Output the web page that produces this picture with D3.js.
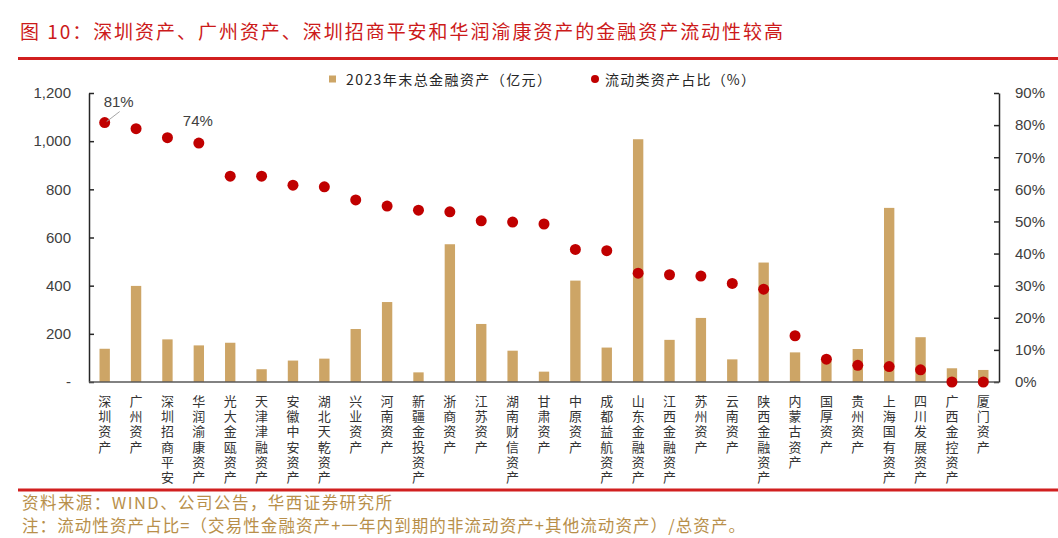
<!DOCTYPE html>
<html><head><meta charset="utf-8">
<script src="https://cdn.jsdelivr.net/npm/d3@7"></script>
<style>
body{margin:0;background:#fff;}
svg{display:block;}
text{font-family:"Liberation Sans","Noto Sans CJK SC",sans-serif;}
.cjk{font-family:"Noto Sans CJK SC","Liberation Sans",sans-serif;}
.vert{writing-mode:vertical-rl;text-orientation:upright;}
</style></head>
<body>
<svg id="chart" width="1058" height="538"></svg>
<script>
const categories = ["深圳资产","广州资产","深圳招商平安","华润渝康资产","光大金瓯资产","天津津融资产","安徽中安资产","湖北天乾资产","兴业资产","河南资产","新疆金投资产","浙商资产","江苏资产","湖南财信资产","甘肃资产","中原资产","成都益航资产","山东金融资产","江西金融资产","苏州资产","云南资产","陕西金融资产","内蒙古资产","国厚资产","贵州资产","上海国有资产","四川发展资产","广西金控资产","厦门资产"];
const totalAssets = [138,399,177,152,163,53,89,97,220,332,40,572,241,130,43,421,143,1008,175,266,94,496,123,88,137,723,186,57,50];
const liquidRatio = [80.8,78.9,76.1,74.4,64.1,64.1,61.3,60.8,56.7,54.8,53.5,53.0,50.2,49.8,49.2,41.3,40.9,33.9,33.4,33.0,30.7,28.9,14.4,7.1,5.2,4.8,3.8,0,0];
const leftTicks = [0,200,400,600,800,1000,1200];
const rightTicks = [0,10,20,30,40,50,60,70,80,90];
const seriesNames = ["2023年末总金融资产（亿元）","流动类资产占比（%）"];
const titleText = "图 10：深圳资产、广州资产、深圳招商平安和华润渝康资产的金融资产流动性较高";
const sourceText = "资料来源：WIND、公司公告，华西证券研究所";
const noteText = "注：流动性资产占比=（交易性金融资产+一年内到期的非流动资产+其他流动资产）/总资产。";
const annotated = [0,3];

const svg = d3.select("#chart");
const barColor = "#CDA566", dotColor = "#C00000", red = "#D11F1F", gold = "#B88F4A";
const L = 89, R = 999, T = 93, B = 382;

const x = d3.scaleBand().domain(categories).range([L,R]).paddingInner(0.67).paddingOuter(0.335);
const yL = d3.scaleLinear().domain([0,1200]).range([B,T]);
const yR = d3.scaleLinear().domain([0,90]).range([B,T]);

// title
svg.append("text").attr("class","cjk").attr("x",20).attr("y",39)
  .attr("fill","#CC1A1A").attr("font-size",19).attr("textLength",763).attr("lengthAdjust","spacing")
  .text(titleText);
svg.append("line").attr("x1",18).attr("x2",1058).attr("y1",58.5).attr("y2",58.5)
  .attr("stroke",red).attr("stroke-width",3);

// legend
svg.append("rect").attr("x",329).attr("y",75.5).attr("width",7).attr("height",7).attr("fill",barColor);
svg.append("text").attr("class","cjk").attr("x",346).attr("y",84.5).attr("font-size",14).attr("fill","#262626")
  .attr("textLength",205).attr("lengthAdjust","spacing").text(seriesNames[0]);
svg.append("circle").attr("cx",595).attr("cy",79).attr("r",4).attr("fill",dotColor);
svg.append("text").attr("class","cjk").attr("x",605).attr("y",84.5).attr("font-size",14).attr("fill","#262626")
  .attr("textLength",150).attr("lengthAdjust","spacing").text(seriesNames[1]);

// bars
svg.append("g").selectAll("rect").data(totalAssets).join("rect")
  .attr("x",(d,i)=>x(categories[i])).attr("width",x.bandwidth())
  .attr("y",d=>yL(d)).attr("height",d=>B-yL(d)).attr("fill",barColor);

// left axis
const gl = svg.append("g").attr("transform",`translate(${L},0)`)
  .call(d3.axisLeft(yL).tickValues(leftTicks).tickSizeInner(-5).tickSizeOuter(0).tickPadding(18)
    .tickFormat(d=>d===0?"-":d3.format(",")(d)));
gl.selectAll("text").attr("font-size",15).attr("fill","#404040").attr("font-family","Liberation Sans");
gl.selectAll("line,path").attr("stroke","#262626").attr("stroke-width",1.5);

// right axis
const gr = svg.append("g").attr("transform",`translate(${R},0)`)
  .call(d3.axisRight(yR).tickValues(rightTicks).tickSizeInner(-5).tickSizeOuter(0).tickPadding(16)
    .tickFormat(d=>d+"%"));
gr.selectAll("text").attr("font-size",15).attr("fill","#404040").attr("font-family","Liberation Sans");
gr.selectAll("line,path").attr("stroke","#262626").attr("stroke-width",1.5);

// baseline
svg.append("line").attr("x1",L).attr("x2",R).attr("y1",B).attr("y2",B)
  .attr("stroke","#595959").attr("stroke-width",1.5);

// x labels (vertical writing)
svg.append("g").selectAll("text").data(categories).join("text")
  .attr("class","cjk vert").attr("font-size",13).attr("fill","#333")
  .attr("letter-spacing","2.2px")
  .attr("x",c=>x(c)+x.bandwidth()/2).attr("y",394.5)
  .text(c=>c);

// dots
svg.append("g").selectAll("circle").data(liquidRatio).join("circle")
  .attr("cx",(d,i)=>x(categories[i])+x.bandwidth()/2).attr("cy",d=>yR(d)).attr("r",5.5).attr("fill",dotColor);

// annotations
annotated.forEach((i,n)=>{
  const cx = x(categories[i])+x.bandwidth()/2, cy = yR(liquidRatio[i]);
  if(n===0){
    svg.append("line").attr("x1",cx+2).attr("y1",cy-1).attr("x2",cx+15).attr("y2",cy-11)
      .attr("stroke","#A6A6A6").attr("stroke-width",1);
    svg.append("text").attr("x",cx+14).attr("y",cy-16).attr("text-anchor","middle")
      .attr("font-size",15).attr("fill","#404040").text(d3.format(".0f")(liquidRatio[i])+"%");
  } else {
    svg.append("text").attr("x",cx-1).attr("y",cy-17).attr("text-anchor","middle")
      .attr("font-size",15).attr("fill","#404040").text(d3.format(".0f")(liquidRatio[i])+"%");
  }
});

// footer
svg.append("line").attr("x1",18).attr("x2",1058).attr("y1",490).attr("y2",490)
  .attr("stroke",red).attr("stroke-width",3);
svg.append("text").attr("class","cjk").attr("x",22).attr("y",509).attr("font-size",16.5).attr("fill",gold)
  .attr("textLength",370).attr("lengthAdjust","spacing").text(sourceText);
svg.append("text").attr("class","cjk").attr("x",22).attr("y",532).attr("font-size",16.5).attr("fill",gold)
  .attr("textLength",723).attr("lengthAdjust","spacing").text(noteText);
</script>
</body></html>
